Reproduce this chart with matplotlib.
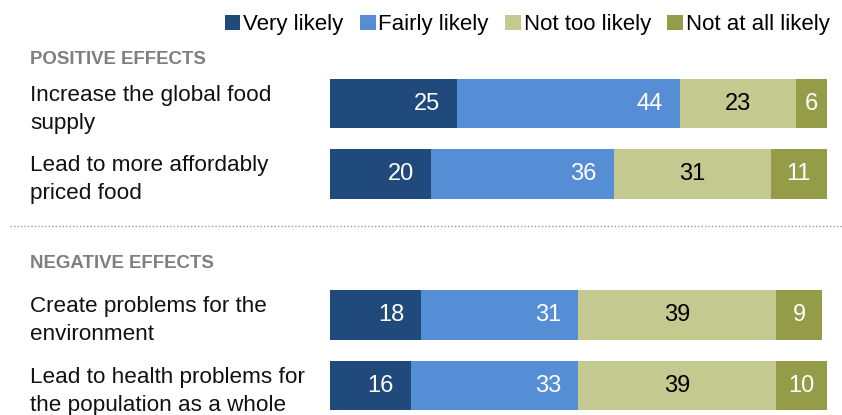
import numpy as np
import matplotlib.pyplot as plt
from matplotlib.transforms import blended_transform_factory

# Data
rows = ["Increase the global food\nsupply",
        "Lead to more affordably\npriced food",
        "Create problems for the\nenvironment",
        "Lead to health problems for\nthe population as a whole"]
row_pos = [0, 1, 3, 4]
categories = ["Very likely", "Fairly likely", "Not too likely", "Not at all likely"]
very_likely = [25, 20, 18, 16]
fairly_likely = [44, 36, 31, 33]
not_too_likely = [23, 31, 39, 39]
not_at_all = [6, 11, 9, 10]
groups = ["POSITIVE EFFECTS", "NEGATIVE EFFECTS"]

colors = ["#214a7c", "#558ed5", "#c4c98f", "#949c48"]
text_colors = ["white", "white", "black", "white"]

plt.rcParams['font.family'] = ['Liberation Sans', 'DejaVu Sans']

fig = plt.figure(figsize=(8.42, 4.15), dpi=100)
W, H = 842, 415
# bars start at x=330px, 100 units = 507 px
ax = fig.add_axes([330 / W, 0, 507 / W, 1])
ax.set_xlim(0, 100)
unit = 70.5
ax.set_ylim(4 + (H - 385.5) / unit, -103.5 / unit)
ax.axis("off")

series = [very_likely, fairly_likely, not_too_likely, not_at_all]
left = np.zeros(len(rows))
pad = 17 / 5.07
for i, vals in enumerate(series):
    vals = np.array(vals)
    ax.barh(row_pos, vals, left=left, height=0.70, color=colors[i],
            label=categories[i], linewidth=0)
    for y, l, v in zip(row_pos, left, vals):
        if i < 2:
            ax.text(l + v - pad, y, str(v), ha="right", va="center",
                    color=text_colors[i], fontsize=17)
        else:
            ax.text(l + v / 2, y, str(v), ha="center", va="center",
                    color=text_colors[i], fontsize=17)
    left += vals

# Row labels and group headers
tr = blended_transform_factory(fig.transFigure, ax.transData)
for y, lab in zip(row_pos, rows):
    ax.text(30 / W, y + 0.08, lab, transform=tr, ha="left", va="center",
            fontsize=16.2, color="#111111", linespacing=1.42)

header_y = [(60 - 103.5) / unit, (263 - 103.5) / unit]
for y, g in zip(header_y, groups):
    ax.text(30 / W, y, g, transform=tr, ha="left", va="center",
            fontsize=13.4, color="#7f7f7f", fontweight="bold")

# dotted separator
sep_y = (226 - 103.5) / unit
ax.plot([10 / W, 1.0], [sep_y, sep_y], transform=tr, color="#999999",
        linestyle=(0, (1, 1.5)), linewidth=1, clip_on=False)

ax.legend(loc="upper right", bbox_to_anchor=(844 / W, 1.0),
          bbox_transform=fig.transFigure, ncol=4, frameon=False,
          fontsize=16, handlelength=0.7, handleheight=0.7,
          handletextpad=0.12, columnspacing=0.75, borderaxespad=0.25)

fig.savefig("out.png", dpi=100)
